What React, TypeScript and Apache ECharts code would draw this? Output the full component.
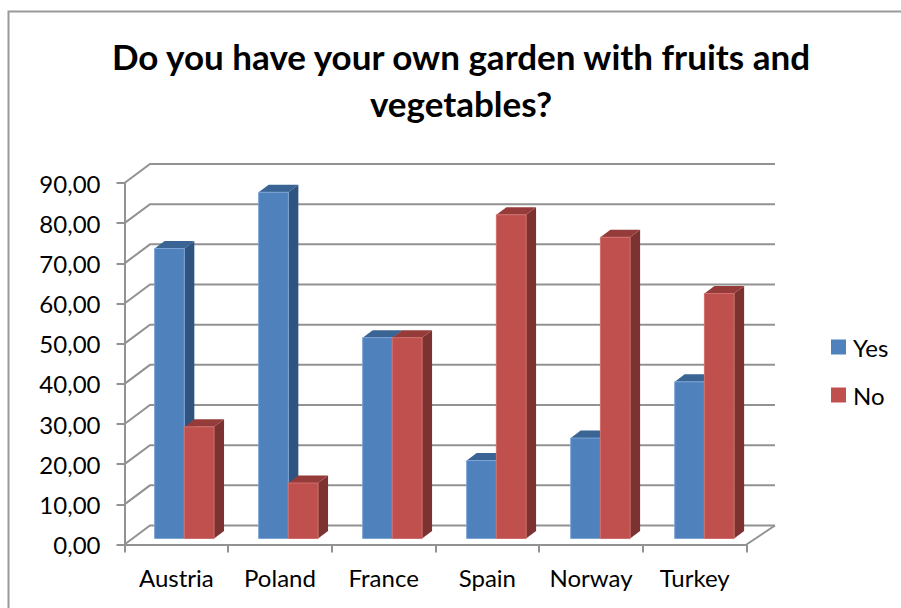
import React, { useEffect, useRef } from "react";
import * as echarts from "echarts";

const categories = ["Austria", "Poland", "France", "Spain", "Norway", "Turkey"];
const yesValues = [72.2, 86.2, 50, 19.4, 25, 39];
const noValues = [27.8, 13.8, 50, 80.6, 75, 61];
const gridTicks = [0, 10, 20, 30, 40, 50, 60, 70, 80, 90];
const titleText = "Do you have your own garden with fruits and\nvegetables?";

const FONT = "Lato, Carlito, Calibri, sans-serif";

function barRenderer(side: number, front: string, right: string, top: string, edge: string) {
  return (_p: any, api: any) => {
    const band = api.size([1, 0])[0];
    const w = band * 0.2865;
    const c = api.coord([api.value(0), api.value(1)]);
    const b = api.coord([api.value(0), 0]);
    const cx = c[0] + 8 + api.value(0) * 0.35;
    const x0 = side === 0 ? cx - w : cx;
    const x1 = x0 + w;
    const yT = c[1] - 6;
    const yB = b[1] - 6;
    const dx = 10;
    const dy = 7.5;
    return {
      type: "group",
      children: [
        {
          type: "polygon",
          shape: { points: [[x1, yT], [x1 + dx, yT - dy], [x1 + dx, yB - dy], [x1, yB]] },
          style: { fill: right },
        },
        {
          type: "polygon",
          shape: { points: [[x0, yT], [x0 + dx, yT - dy], [x1 + dx, yT - dy], [x1, yT]] },
          style: { fill: top },
        },
        {
          type: "rect",
          shape: { x: x0, y: yT, width: w, height: yB - yT },
          style: { fill: front, stroke: edge, lineWidth: 1 },
        },
      ],
    };
  };
}

function wallRenderer(params: any, api: any) {
  const cs = params.coordSys;
  const p = api.coord([0, api.value(0)]);
  const style = { stroke: "#929292", lineWidth: 2, fill: "none" };
  const x = cs.x;
  const backDy = 19;
  const children: any[] = [
    {
      type: "polyline",
      shape: { points: [[x, p[1]], [x + 25.5, p[1] - backDy], [x + cs.width + 28.5, p[1] - backDy]] },
      style,
    },
  ];
  if (api.value(0) === 0) {
    children.push({
      type: "line",
      shape: { x1: x + cs.width, y1: p[1], x2: x + cs.width + 28.5, y2: p[1] - backDy },
      style,
    });
  }
  return { type: "group", children };
}

export default function App() {
  const ref = useRef<HTMLDivElement>(null);
  useEffect(() => {
    const chart = echarts.init(ref.current!, null, { renderer: "svg" });
    chart.setOption({
      animation: false,
      backgroundColor: "#ffffff",
      textStyle: { fontFamily: FONT },
      title: {
        text: titleText,
        left: 456,
        top: 27,
        textAlign: "center",
        textStyle: { fontFamily: FONT, fontWeight: "bold", fontSize: 35, lineHeight: 47, color: "#000" },
      },
      legend: {
        orient: "vertical",
        left: 826,
        top: 330,
        itemWidth: 15,
        itemHeight: 15,
        itemGap: 24,
        icon: "rect",
        textStyle: { fontFamily: FONT, fontSize: 24, color: "#000", padding: [0, 0, 0, 2] },
        data: ["Yes", "No"],
      },
      grid: { left: 124.5, top: 183, width: 622, height: 361.5 },
      xAxis: {
        type: "category",
        data: categories,
        axisLine: { lineStyle: { color: "#929292", width: 2 } },
        axisTick: { show: true, interval: 0, length: 8, lineStyle: { color: "#929292", width: 2 } },
        axisLabel: { interval: 0, hideOverlap: false, fontFamily: FONT, fontSize: 24, color: "#000", margin: 21 },
        splitLine: { show: false },
      },
      yAxis: {
        type: "value",
        min: 0,
        max: 90,
        interval: 10,
        axisLine: { show: true, lineStyle: { color: "#929292", width: 2 } },
        axisTick: { show: true, length: 8, lineStyle: { color: "#929292", width: 2 } },
        axisLabel: {
          fontFamily: FONT,
          fontSize: 24,
          color: "#000",
          margin: 24,
          padding: [4, 0, 0, 0],
          formatter: (v: number) => v.toFixed(2).replace(".", ","),
        },
        splitLine: { show: false },
      },
      graphic: [
        {
          type: "polyline",
          silent: true,
          z: -1,
          shape: { points: [[8.5, 608], [8.5, 11.5], [901, 11.5]] },
          style: { stroke: "#9a9a9a", lineWidth: 2, fill: "none" },
        },
      ],
      series: [
        {
          type: "custom",
          name: "wall",
          coordinateSystem: "cartesian2d",
          renderItem: wallRenderer,
          clip: false,
          silent: true,
          z: 1,
          encode: { y: 0 },
          data: gridTicks.map((v) => [v]),
        },
        {
          type: "custom",
          name: "Yes",
          coordinateSystem: "cartesian2d",
          renderItem: barRenderer(0, "#4f81bd", "#2f5480", "#3a6493", "#7ba3d4"),
          itemStyle: { color: "#4f81bd" },
          clip: false,
          z: 2,
          encode: { x: 0, y: 1 },
          data: yesValues.map((v, i) => [i, v]),
        },
        {
          type: "custom",
          name: "No",
          coordinateSystem: "cartesian2d",
          renderItem: barRenderer(1, "#c0504d", "#7c3230", "#953c3a", "#cf6f6c"),
          itemStyle: { color: "#c0504d" },
          clip: false,
          z: 3,
          encode: { x: 0, y: 1 },
          data: noValues.map((v, i) => [i, v]),
        },
      ],
    });
    return () => chart.dispose();
  }, []);
  return <div ref={ref} style={{ position: "fixed", left: 0, top: 0, width: 901, height: 608 }} />;
}
